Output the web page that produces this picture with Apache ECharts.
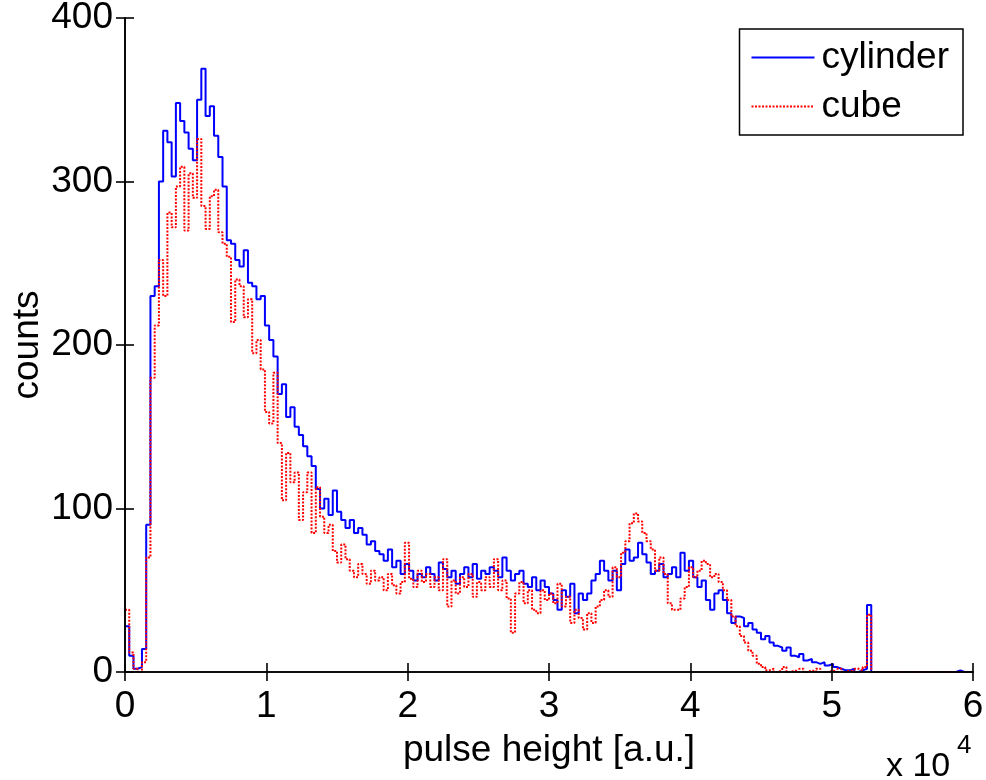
<!DOCTYPE html>
<html><head><meta charset="utf-8">
<script src="https://cdn.jsdelivr.net/npm/echarts@6/dist/echarts.min.js"></script>
<style>html,body{margin:0;padding:0;background:#fff}#c{width:986px;height:780px}</style>
</head><body><div id="c"></div>
<script>
// histogram bin width in pulse-height units (a.u.)
const binWidth = 300;
const xMax = 60000;
const xInterval = 10000;
const xLabelScale = 10000;
const yMax = 400;
const yInterval = 100;
const seriesNames = ['cylinder', 'cube'];
const xAxisTitle = 'pulse height [a.u.]';
const yAxisTitle = 'counts';

// counts per bin, bin i covers [i*binWidth, (i+1)*binWidth)
const cylinder = [
  28, 10, 2, 3, 14, 90, 230, 236, 300, 331,
  324, 303, 348, 337, 330, 320, 313, 350, 369, 340,
  346, 328, 315, 297, 264, 262, 252, 248, 258, 238,
  236, 228, 230, 212, 203, 193, 170, 176, 156, 162,
  150, 145, 138, 132, 126, 112, 100, 106, 96, 111,
  98, 93, 88, 93, 85, 88, 84, 78, 80, 74,
  72, 68, 75, 64, 68, 60, 66, 62, 56, 60,
  58, 64, 60, 56, 67, 63, 58, 62, 54, 60,
  64, 58, 66, 57, 62, 60, 64, 62, 58, 70,
  62, 56, 60, 62, 54, 52, 58, 50, 56, 52,
  48, 44, 38, 50, 46, 54, 36, 48, 44, 48,
  56, 60, 68, 62, 56, 62, 50, 66, 75, 68,
  70, 79, 72, 67, 60, 62, 66, 58, 60, 64,
  58, 73, 62, 68, 58, 52, 56, 44, 38, 48,
  50, 44, 36, 30, 34, 33, 28, 30, 26, 24,
  20, 22, 18, 16, 15, 13, 15, 10, 9, 11,
  7, 8, 6, 5, 6, 4, 5, 3, 2, 1,
  1, 2, 0, 1, 2, 41, 0, 0, 0, 0,
  0, 0, 0, 0, 0, 0, 0, 0, 0, 0,
  0, 0, 0, 0, 0, 0, 1, 0, 0, 0
];
const cube = [
  38, 12, 2, 0, 6, 70, 180, 212, 252, 230,
  281, 272, 297, 309, 270, 305, 290, 326, 285, 271,
  291, 295, 269, 262, 254, 214, 240, 236, 217, 228,
  195, 203, 185, 159, 152, 183, 140, 105, 134, 116,
  122, 93, 110, 122, 85, 113, 95, 85, 90, 74,
  67, 78, 69, 62, 58, 66, 60, 54, 62, 56,
  58, 50, 60, 53, 48, 55, 79, 57, 52, 62,
  55, 60, 52, 58, 50, 69, 40, 56, 48, 58,
  52, 60, 46, 55, 50, 58, 52, 69, 50, 56,
  45, 24, 48, 55, 42, 50, 38, 36, 50, 44,
  48, 42, 54, 40, 46, 30, 38, 33, 26, 36,
  30, 40, 44, 50, 46, 64, 58, 73, 80, 91,
  97, 92, 85, 80, 75, 62, 70, 60, 42, 38,
  38, 45, 52, 64, 58, 62, 68, 66, 58, 60,
  55, 50, 44, 34, 28, 22, 18, 13, 10, 5,
  3, 1, 2, 0, 1, 3, 0, 1, 0, 2,
  0, 1, 0, 2, 0, 0, 1, 0, 2, 0,
  1, 0, 2, 1, 3, 35, 0, 0, 0, 0,
  0, 0, 0, 0, 0, 0, 0, 0, 0, 0,
  0, 0, 0, 0, 0, 0, 0, 0, 0, 0
];

function toSteps(arr) {
  const pts = arr.map((v, i) => [i * binWidth, v]);
  pts.push([arr.length * binWidth, arr[arr.length - 1]]);
  return pts;
}

const FONT = "'Liberation Sans', Arial, Helvetica, sans-serif";
const FS = 37;
const chart = echarts.init(document.getElementById('c'), null, {renderer: 'canvas'});

const axisLine = {show: true, lineStyle: {color: '#000', width: 1.6}};
const tick = {show: true, inside: true, length: 9, lineStyle: {color: '#000', width: 1.6}};

chart.setOption({
  animation: false,
  backgroundColor: '#fff',
  grid: {left: 125, right: 13, top: 18, bottom: 108, containLabel: false, outerBoundsMode: 'none'},
  legend: {
    orient: 'vertical',
    right: 23, top: 29,
    data: seriesNames,
    itemWidth: 63, itemHeight: 14, itemGap: 12,
    padding: [10, 14, 10, 11],
    borderColor: '#000', borderWidth: 1.5,
    backgroundColor: '#fff',
    itemStyle: {opacity: 0, borderWidth: 0},
    textStyle: {fontFamily: FONT, fontSize: FS, color: '#000', padding: [0, 0, 0, 2]}
  },
  xAxis: [{
    type: 'value', min: 0, max: xMax, interval: xInterval, position: 'bottom',
    axisLine, axisTick: tick, splitLine: {show: false}, z: 5,
    axisLabel: {formatter: v => String(v / xLabelScale), fontFamily: FONT, fontSize: FS, color: '#000', margin: 16},
    name: xAxisTitle, nameLocation: 'middle', nameGap: 60,
    nameTextStyle: {fontFamily: FONT, fontSize: FS, color: '#000'}
  }, {
    type: 'value', min: 0, max: xMax, interval: xInterval, position: 'top',
    axisLine, axisTick: tick, splitLine: {show: false}, axisLabel: {show: false}, z: 5
  }],
  yAxis: [{
    type: 'value', min: 0, max: yMax, interval: yInterval, position: 'left',
    axisLine, axisTick: tick, splitLine: {show: false}, z: 5,
    axisLabel: {fontFamily: FONT, fontSize: FS, color: '#000', margin: 12}
  }, {
    type: 'value', min: 0, max: yMax, interval: yInterval, position: 'right',
    axisLine, axisTick: tick, splitLine: {show: false}, axisLabel: {show: false}, z: 5
  }],
  series: [{
    name: seriesNames[0], type: 'line', step: 'end', symbol: 'none',
    data: toSteps(cylinder),
    lineStyle: {color: '#0000ff', width: 2},
    itemStyle: {color: '#0000ff'}
  }, {
    name: seriesNames[1], type: 'line', step: 'end', symbol: 'none',
    data: toSteps(cube),
    lineStyle: {color: '#ff0000', width: 2, type: [2, 1.5]},
    itemStyle: {color: '#ff0000'}
  }],
  graphic: [{
    type: 'text', x: 28, y: 345, rotation: Math.PI / 2,
    style: {text: yAxisTitle, fontFamily: FONT, fontSize: FS, fill: '#000', align: 'center', verticalAlign: 'middle'}
  }, {
    type: 'text', left: 886, top: 750,
    style: {text: 'x 10', fontFamily: FONT, fontSize: FS - 3, fill: '#000'}
  }, {
    type: 'text', left: 957, top: 733,
    style: {text: '4', fontFamily: FONT, fontSize: 26, fill: '#000'}
  }]
});
</script>
</body></html>
